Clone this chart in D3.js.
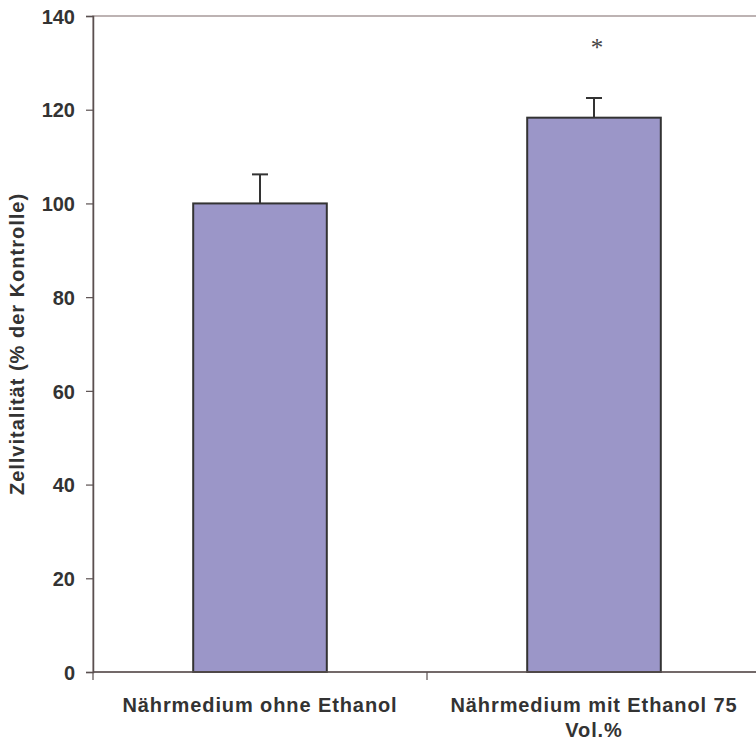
<!DOCTYPE html>
<html><head><meta charset="utf-8">
<script src="https://cdn.jsdelivr.net/npm/d3@7/dist/d3.min.js"></script>
<style>body{margin:0;background:#fff}svg{display:block}</style>
</head><body>
<svg id="c" width="756" height="744"></svg>
<script>
const categories = [["Nährmedium ohne Ethanol"], ["Nährmedium mit Ethanol 75", "Vol.%"]];
const values = [100, 118.3];
const errors = [6.2, 4.2];
const marks = ["", "*"];
const yTicks = [0, 20, 40, 60, 80, 100, 120, 140];
const yLabel = "Zellvitalität (% der Kontrolle)";

const svg = d3.select("#c");
const m = {l: 93, t: 16, r: -5, b: 72};
const W = 756 - m.l - m.r, H = 744 - m.t - m.b;
const g = svg.append("g").attr("transform", `translate(${m.l},${m.t})`);
const x = d3.scaleBand().domain(d3.range(categories.length)).range([0, W]).paddingInner(0.6).paddingOuter(0.3);
const xb = d3.scaleBand().domain(d3.range(categories.length)).range([0, W]);
const y = d3.scaleLinear().domain([0, 140]).range([H, 0]);
const FONT = "Liberation Sans, Arial, Helvetica, sans-serif";

// plot border (top/right)
g.append("rect").attr("x", 0).attr("y", 0).attr("width", W).attr("height", H)
  .attr("fill", "none").attr("stroke", "#a89a9a").attr("stroke-width", 1.5);

// bars
g.selectAll(".bar").data(values).join("rect")
  .attr("x", (d, i) => x(i)).attr("y", d => y(d))
  .attr("width", x.bandwidth()).attr("height", d => y(0) - y(d))
  .attr("fill", "#9b96c8").attr("stroke", "#333").attr("stroke-width", 2);

// error bars
values.forEach((v, i) => {
  const cx = x(i) + x.bandwidth() / 2;
  g.append("line").attr("x1", cx).attr("x2", cx).attr("y1", y(v)).attr("y2", y(v + errors[i]))
    .attr("stroke", "#333").attr("stroke-width", 2);
  g.append("line").attr("x1", cx - 8).attr("x2", cx + 8).attr("y1", y(v + errors[i])).attr("y2", y(v + errors[i]))
    .attr("stroke", "#333").attr("stroke-width", 2);
  if (marks[i]) g.append("text").attr("x", cx + 3).attr("y", y(134.5) + 14).attr("text-anchor", "middle")
    .attr("font-family", "Liberation Serif, serif").attr("font-size", 25).attr("fill", "#444").text(marks[i]);
});

// y axis
const ya = g.append("g").call(d3.axisLeft(y).tickValues(yTicks).tickSize(7).tickPadding(11));
ya.select(".domain").attr("stroke", "#5a5050").attr("stroke-width", 1.5);
ya.selectAll(".tick line").attr("stroke", "#5a5050").attr("stroke-width", 1.2);
ya.selectAll("text").attr("font-family", FONT).attr("font-weight", "bold")
  .attr("font-size", 20).attr("fill", "#333").attr("dy", "0.36em");

// x axis
const xa = g.append("g").attr("transform", `translate(0,${H})`);
xa.append("line").attr("x1", 0).attr("x2", W).attr("stroke", "#5a5050").attr("stroke-width", 1.5);
xa.selectAll(".xt").data(d3.range(categories.length + 1)).join("line")
  .attr("x1", d => d * xb.bandwidth()).attr("x2", d => d * xb.bandwidth())
  .attr("y1", 0).attr("y2", 8).attr("stroke", "#5a5050").attr("stroke-width", 1.2);
categories.forEach((lines, i) => {
  const t = xa.append("text").attr("text-anchor", "middle")
    .attr("font-family", FONT).attr("font-weight", "bold")
    .attr("font-size", 20).attr("letter-spacing", 0.9).attr("fill", "#333");
  lines.forEach((s, k) => t.append("tspan").attr("x", xb(i) + xb.bandwidth() / 2).attr("y", 40 + k * 25).text(s));
});

// y label
svg.append("text").attr("transform", `translate(24,${m.t + H / 2}) rotate(-90)`).attr("text-anchor", "middle")
  .attr("font-family", FONT).attr("font-weight", "bold").attr("letter-spacing", 1)
  .attr("font-size", 20).attr("fill", "#333").text(yLabel);
</script>
</body></html>
